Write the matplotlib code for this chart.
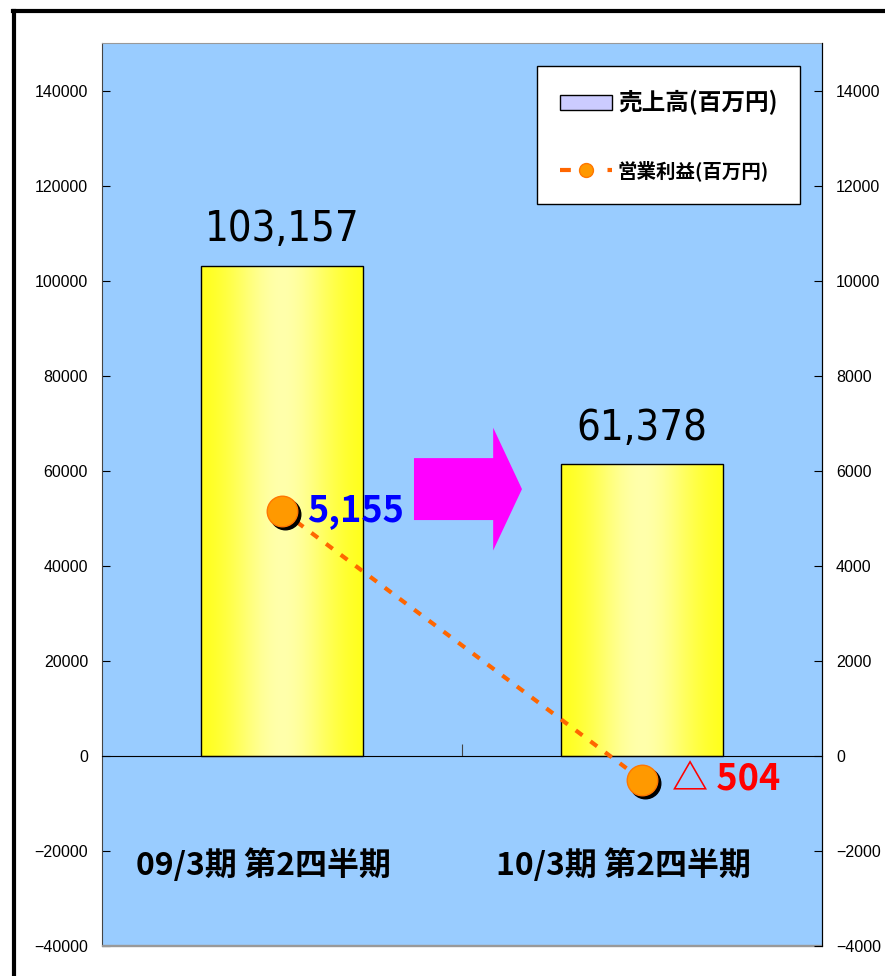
import matplotlib.pyplot as plt
import numpy as np
from matplotlib.lines import Line2D
from matplotlib.patches import FancyArrow, Rectangle
from matplotlib.transforms import offset_copy

plt.rcParams['font.family'] = ['Liberation Sans', 'Noto Sans CJK JP', 'DejaVu Sans']
plt.rcParams['axes.unicode_minus'] = True

periods = ['09/3期 第2四半期', '10/3期 第2四半期']
sales = [103157, 61378]           # 売上高 (百万円), left axis
op_profit = [5155, -504]          # 営業利益 (百万円), right axis
profit_labels = ['5,155', '△ 504']
profit_colors = ['#0000ff', '#ff0000']

left_ticks = np.arange(-40000, 140001, 20000)
right_ticks = np.arange(-4000, 14001, 2000)

narrow = ['DejaVu Sans', 'Noto Sans CJK JP']
cjk = ['Noto Sans CJK JP', 'DejaVu Sans']

fig = plt.figure(figsize=(8.85, 9.76), dpi=100, facecolor='white')
ax = fig.add_axes([102 / 885, 1 - 946 / 976, 720 / 885, 903 / 976])
ax.set_facecolor('#99ccff')
x = np.arange(len(periods))

# bars with a soft horizontal yellow gradient
bars = ax.bar(x, sales, width=0.45, color='none', edgecolor='black',
              linewidth=1.0, zorder=3)
t = np.linspace(0, 1, 256)
shade = np.exp(-((t - 0.5) / 0.33) ** 2)
grad = np.zeros((1, 256, 3))
grad[0, :, 0] = 1.0
grad[0, :, 1] = 1.0
grad[0, :, 2] = 0.05 + 0.62 * shade
for b in bars:
    x0, w, h = b.get_x(), b.get_width(), b.get_height()
    im = ax.imshow(grad, extent=[x0, x0 + w, 0, h], aspect='auto',
                   zorder=2, interpolation='bilinear')
    im.set_clip_path(b)
    ax.text(x0 + w / 2, h + 3300, f'{h:,.0f}', ha='center', va='bottom',
            fontsize=30, family=narrow, fontstretch='condensed',
            color='black', zorder=5)

ax.set_xlim(-0.5, 1.5)
ax.set_ylim(-40000, 150000)
ax.set_yticks(left_ticks)
ax.tick_params(axis='y', direction='in', length=6, labelsize=11.5, pad=10)

ax.spines['bottom'].set_position(('data', 0))
ax.spines['bottom'].set_color('black')
ax.set_xticks([0.5])
ax.set_xticklabels([''])
ax.tick_params(axis='x', direction='in', length=9, color='#444444')
ax.spines['top'].set_color('#999999')
ax.spines['left'].set_color('#444444')
ax.add_patch(Rectangle((0, 0), 1, 0.0015, transform=ax.transAxes,
                       color='#999999', zorder=6, clip_on=False))

for i, name in enumerate(periods):
    ax.text(x[i] - 0.05, -23000, name, ha='center', va='center',
            fontsize=23, fontweight='bold', family=cjk, zorder=5)

# operating profit on the secondary axis
ax2 = ax.twinx()
ax2.set_ylim(-4000, 15000)
ax2.set_yticks(right_ticks)
ax2.tick_params(axis='y', direction='in', length=6, labelsize=11.5, pad=10)
for s in ['top', 'bottom', 'left']:
    ax2.spines[s].set_visible(False)
ax2.spines['right'].set_color('black')

ax2.plot(x, op_profit, color='#ff6600', linewidth=3, dashes=(2.0, 2.4),
         zorder=3)
shadow = offset_copy(ax2.transData, fig=fig, x=3, y=-3, units='dots')
ax2.plot(x, op_profit, 'o', color='black', markersize=22, transform=shadow,
         zorder=4)
ax2.plot(x, op_profit, 'o', markerfacecolor='#ff9900',
         markeredgecolor='#ff7700', markeredgewidth=1, markersize=22,
         zorder=5)
ax2.text(x[0] + 0.07, op_profit[0], profit_labels[0], ha='left',
         va='center', fontsize=26, fontweight='bold', family=cjk,
         color=profit_colors[0], zorder=6)
ax2.text(x[1] + 0.083, op_profit[1], profit_labels[1], ha='left',
         va='center', fontsize=26, fontweight='bold', family=cjk,
         color=profit_colors[1], zorder=6)

# magenta arrow between the two periods
ax.add_patch(FancyArrow(0.4333, 0.506, 0.15, 0, width=0.0686,
                        head_width=0.136, head_length=0.040,
                        length_includes_head=True, transform=ax.transAxes,
                        color='#ff00ff', linewidth=0, zorder=4))

handles = [
    Rectangle((0, 0), 1, 1, facecolor='#ccccff', edgecolor='black',
              linewidth=1),
    Line2D([0], [0], color='#ff6600', linewidth=3, dashes=(2.6, 8.8),
           marker='o', markersize=10, markerfacecolor='#ff9900',
           markeredgecolor='#ff7700'),
]
leg = ax2.legend(handles, ['売上高(百万円)', '営業利益(百万円)'],
                 loc='upper right', bbox_to_anchor=(0.97, 0.974),
                 prop={'family': cjk, 'weight': 'bold', 'size': 15},
                 frameon=True, fancybox=False, edgecolor='black',
                 framealpha=1, borderpad=1.1, labelspacing=2.2,
                 handlelength=2.5, handletextpad=0.3, borderaxespad=0)
leg.get_frame().set_linewidth(1.0)
leg.get_texts()[0].set_fontsize(17)
leg.get_texts()[1].set_fontsize(14)

# outer frame along the left and top edges
fig.add_artist(Line2D([14 / 885, 14 / 885], [0, 1 - 11 / 976],
                      transform=fig.transFigure, color='black', linewidth=3))
fig.add_artist(Line2D([13 / 885, 1], [1 - 11 / 976, 1 - 11 / 976],
                      transform=fig.transFigure, color='black', linewidth=3))

fig.savefig('out.png', dpi=100, facecolor='white')
